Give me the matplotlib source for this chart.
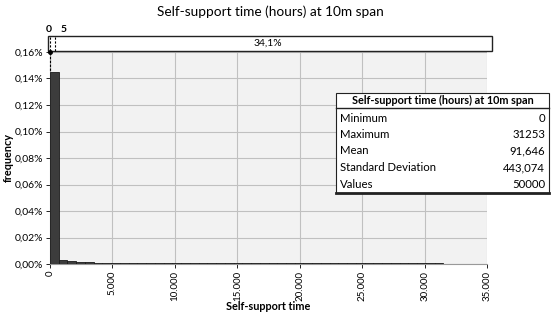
import matplotlib
matplotlib.use('Agg')
import matplotlib.pyplot as plt
from matplotlib.patches import Rectangle
from matplotlib.ticker import FuncFormatter, MultipleLocator

# Data
bin_width = 700  # hours
freq_pct = [0.145, 0.003, 0.002, 0.0015, 0.0012, 0.0010, 0.0009, 0.0009, 0.0008, 0.0008,
            0.0008, 0.0008, 0.0008, 0.0008, 0.0008, 0.0008, 0.0008, 0.0008, 0.0008, 0.0008,
            0.0008, 0.0008, 0.0008, 0.0008, 0.0008, 0.0008, 0.0008, 0.0008, 0.0008, 0.0008,
            0.0008, 0.0008, 0.0008, 0.0008, 0.0008, 0.0008, 0.0008, 0.0008, 0.0008, 0.0008,
            0.0008, 0.0008, 0.0008, 0.0008, 0.0008]
bin_left = [i * bin_width for i in range(len(freq_pct))]
band_left, band_right = 0, 5
band_text = '34,1%'
stat_names = ['Minimum', 'Maximum', 'Mean', 'Standard Deviation', 'Values']
stat_values = ['0', '31253', '91,646', '443,074', '50000']
title = 'Self-support time (hours) at 10m span'

W, H = 552, 316
plt.rcParams['font.family'] = ['Lato', 'DejaVu Sans']

fig = plt.figure(figsize=(W / 100, H / 100), dpi=100)


def fx(px):
    return px / W


def fy(py):
    return 1 - py / H


ax = fig.add_axes([fx(50), fy(264), fx(487) - fx(50), fy(52) - fy(264)])
ax.set_facecolor('#f2f2f2')
ax.bar(bin_left, freq_pct, width=bin_width, align='edge', color='#3c3c3c',
       edgecolor='#1a1a1a', linewidth=0.6, zorder=3)
ax.set_xlim(0, 35000)
ax.set_ylim(0, 0.16)
ax.xaxis.set_major_locator(MultipleLocator(5000))
ax.yaxis.set_major_locator(MultipleLocator(0.02))
ax.xaxis.set_major_formatter(FuncFormatter(lambda v, p: f'{int(v):,}'.replace(',', '.')))
ax.yaxis.set_major_formatter(FuncFormatter(lambda v, p: f'{v:.2f}%'.replace('.', ',')))
ax.tick_params(axis='x', labelrotation=90, labelsize=7, length=3, width=0.6, pad=2)
ax.tick_params(axis='y', labelsize=7.5, length=3, width=0.6, pad=2)
ax.grid(color='#c0c0c0', linewidth=0.8, zorder=0)
for s in ['top', 'right']:
    ax.spines[s].set_visible(False)
ax.spines['left'].set_color('#999999')
ax.spines['bottom'].set_color('#999999')
fig.text(fx(268), fy(307), 'Self-support time', ha='center', va='center',
         fontsize=7.8, fontweight='bold')
fig.text(fx(8), fy(158), 'frequency', ha='center', va='center', rotation=90,
         fontsize=7.8, fontweight='bold')

fig.text(fx(270), fy(12), title, ha='center', va='center', fontsize=9.8)

# percentile band above the plot
fig.patches.append(Rectangle((fx(48), fy(51)), fx(492) - fx(48), fy(36) - fy(51),
                             transform=fig.transFigure, facecolor='white',
                             edgecolor='#222222', linewidth=1.0))
fig.text(fx(268), fy(43.5), band_text, ha='center', va='center', fontsize=7.5)
fig.text(fx(49), fy(29), str(band_left), ha='center', va='center', fontsize=7.5, fontweight='bold')
fig.text(fx(64), fy(29), str(band_right), ha='center', va='center', fontsize=7.5, fontweight='bold')
fig.lines.append(plt.Line2D([fx(50), fx(50)], [fy(37), fy(72)], transform=fig.transFigure,
                            color='black', linestyle='--', linewidth=0.8, dashes=(2, 1.5)))
fig.lines.append(plt.Line2D([fx(54.5), fx(54.5)], [fy(37), fy(51)], transform=fig.transFigure,
                            color='black', linestyle='--', linewidth=0.8, dashes=(2, 1.5)))
fig.lines.append(plt.Line2D([fx(50)], [fy(52)], transform=fig.transFigure, marker='o',
                            markersize=2.5, color='black'))

# statistics box
tx0, tx1, ty0, ty1 = 336, 549, 93, 193
fig.patches.append(Rectangle((fx(tx0), fy(ty1)), fx(tx1) - fx(tx0), fy(ty0) - fy(ty1),
                             transform=fig.transFigure, facecolor='white',
                             edgecolor='#222222', linewidth=0.8, zorder=5))
fig.lines.append(plt.Line2D([fx(tx0), fx(tx1)], [fy(108), fy(108)], transform=fig.transFigure,
                            color='#222222', linewidth=1.0, zorder=6))
fig.lines.append(plt.Line2D([fx(tx0), fx(tx1)], [fy(193), fy(193)], transform=fig.transFigure,
                            color='#222222', linewidth=2.0, zorder=6))
fig.text(fx((tx0 + tx1) / 2), fy(100.5), title, ha='center', va='center',
         fontsize=7.8, fontweight='bold', zorder=7)
for i, (name, val) in enumerate(zip(stat_names, stat_values)):
    yy = fy(118 + i * 16.5)
    fig.text(fx(340), yy, name, ha='left', va='center', fontsize=8.2, zorder=7)
    fig.text(fx(545), yy, val, ha='right', va='center', fontsize=8.2, zorder=7)

fig.savefig('out.png', dpi=100)
